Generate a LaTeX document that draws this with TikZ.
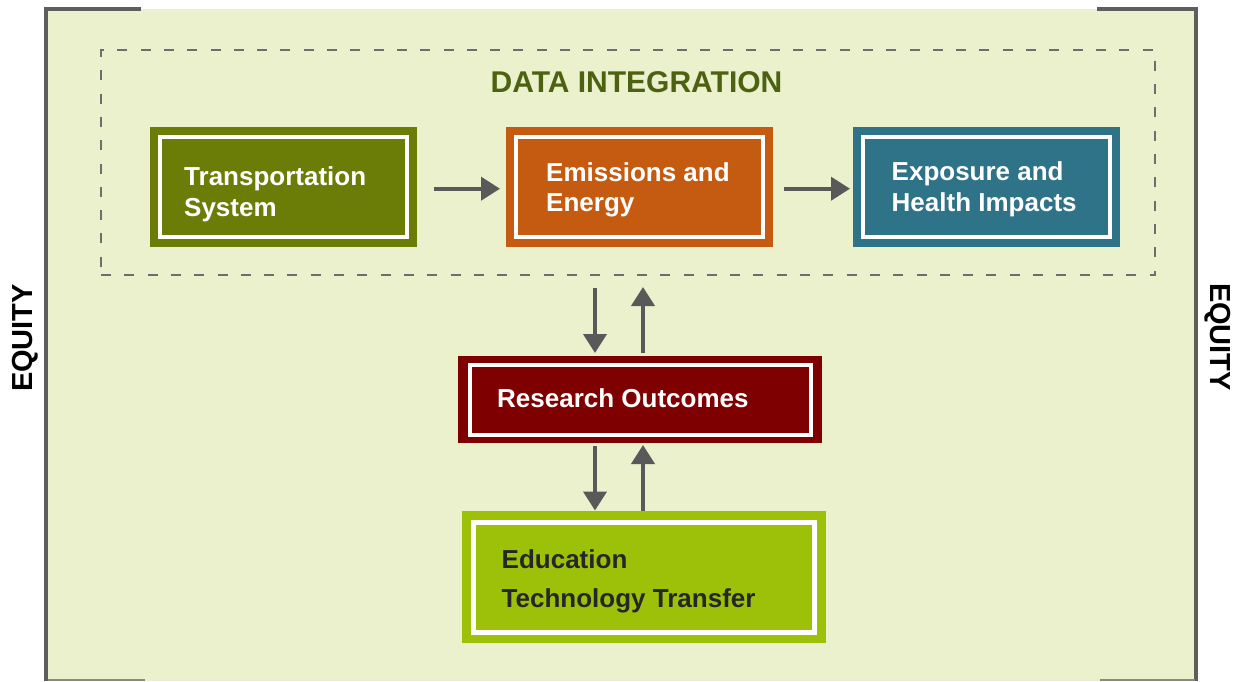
\documentclass[tikz,border=0pt]{standalone}
\usepackage{fontspec}
\setmainfont{Liberation Sans}
\usetikzlibrary{arrows.meta}
\definecolor{bgc}{HTML}{EBF1CD}
\definecolor{borderc}{HTML}{5E5E5E}
\definecolor{bottomc}{HTML}{8A8A80}
\definecolor{dashc}{HTML}{6E6E6E}
\definecolor{titlec}{HTML}{4C6210}
\definecolor{transc}{HTML}{6B7D06}
\definecolor{emisc}{HTML}{C55A11}
\definecolor{expoc}{HTML}{2E7388}
\definecolor{resc}{HTML}{7F0000}
\definecolor{educ}{HTML}{9DC109}
\definecolor{arrowc}{HTML}{595959}
\definecolor{edutext}{HTML}{262626}
\tikzset{
  boxnode/.style={draw=none, inner sep=0pt, outer sep=0pt},
  lbl/.style={anchor=base west, inner sep=0pt, font=\fontsize{26pt}{31pt}\selectfont\bfseries, text=white},
  arr/.style={draw=arrowc, line width=4pt, -{Triangle[length=19pt,width=23pt]}},
  equity/.style={inner sep=0pt, font=\fontsize{29pt}{34pt}\selectfont\bfseries, text=black},
}
\begin{document}
\begin{tikzpicture}[x=1pt,y=-1pt]
\useasboundingbox (0,0) rectangle (1235,681);
% background and frame
\fill[bgc] (46,9) rectangle (1196,681);
\draw[borderc, line width=4pt] (141,8.7) -- (45.5,8.7) -- (45.5,681);
\draw[borderc, line width=4pt] (1097,8.7) -- (1196,8.7) -- (1196,681);
\draw[bottomc, line width=2pt] (48,680.3) -- (145,680.3);
\draw[bottomc, line width=2pt] (1100,680.3) -- (1195,680.3);
% equity labels
\node[equity, rotate=90] (eqL) at (25,338) {EQUITY};
\node[equity, rotate=-90] (eqR) at (1218,337) {EQUITY};
% data integration frame
\node[draw=dashc, line width=2pt, dash pattern=on 10pt off 13.3pt, minimum width=1054pt, minimum height=225pt, inner sep=0pt] (integ) at (628,162.5) {};
\node[inner sep=0pt, font=\fontsize{30pt}{34pt}\selectfont\bfseries, text=titlec] (title) at (636.5,82) {DATA INTEGRATION};
% boxes
\node[boxnode, fill=transc, minimum width=267pt, minimum height=120pt] (trans) at (283.5,187) {};
\node[boxnode, fill=emisc, minimum width=267pt, minimum height=120pt] (emis) at (639.5,187) {};
\node[boxnode, fill=expoc, minimum width=267pt, minimum height=120pt] (expo) at (986.5,187) {};
\node[boxnode, fill=resc, minimum width=364pt, minimum height=87pt] (res) at (640,399.5) {};
\node[boxnode, fill=educ, minimum width=364pt, minimum height=132pt] (edu) at (644,577) {};
% inner white frames
\foreach \b in {trans,emis,expo}{
  \draw[white, line width=3.5pt] ([shift={(10pt,-10pt)}]\b.north west) rectangle ([shift={(-10pt,10pt)}]\b.south east);
}
\draw[white, line width=4pt] ([shift={(12pt,-8.5pt)}]res.north west) rectangle ([shift={(-11.5pt,8.5pt)}]res.south east);
\draw[white, line width=5.5pt] ([shift={(11.5pt,-11.5pt)}]edu.north west) rectangle ([shift={(-11.5pt,10.5pt)}]edu.south east);
% texts
\node[lbl] (transA) at (184,185) {Transportation};
\node[lbl] (transB) at (184,216.7) {System};
\node[lbl] (emisA) at (546,181) {Emissions and};
\node[lbl] (emisB) at (546,211) {Energy};
\node[lbl] (expoA) at (891.5,180) {Exposure and};
\node[lbl] (expoB) at (891.5,211.7) {Health Impacts};
\node[lbl] (resA) at (497,407.7) {Research Outcomes};
\node[lbl, text=edutext] (eduA) at (501.5,568) {Education};
\node[lbl, text=edutext] (eduB) at (501.5,607.7) {Technology Transfer};
% arrows
\draw[arr] ([xshift=17pt,yshift=-1.7pt]trans.east) -- ([xshift=-6pt,yshift=-1.7pt]emis.west);
\draw[arr] ([xshift=11pt,yshift=-1.7pt]emis.east) -- ([xshift=-3pt,yshift=-1.7pt]expo.west);
\draw[arr] ([xshift=-45pt,yshift=68pt]res.north) -- ([xshift=-45pt,yshift=3pt]res.north);
\draw[arr] ([xshift=3pt,yshift=3pt]res.north) -- ([xshift=3pt,yshift=69pt]res.north);
\draw[arr] ([xshift=-45pt,yshift=-3pt]res.south) -- ([xshift=-49pt,yshift=0.5pt]edu.north);
\draw[arr] ([xshift=-1pt]edu.north) -- ([xshift=3pt,yshift=-2pt]res.south);
\end{tikzpicture}
\end{document}
